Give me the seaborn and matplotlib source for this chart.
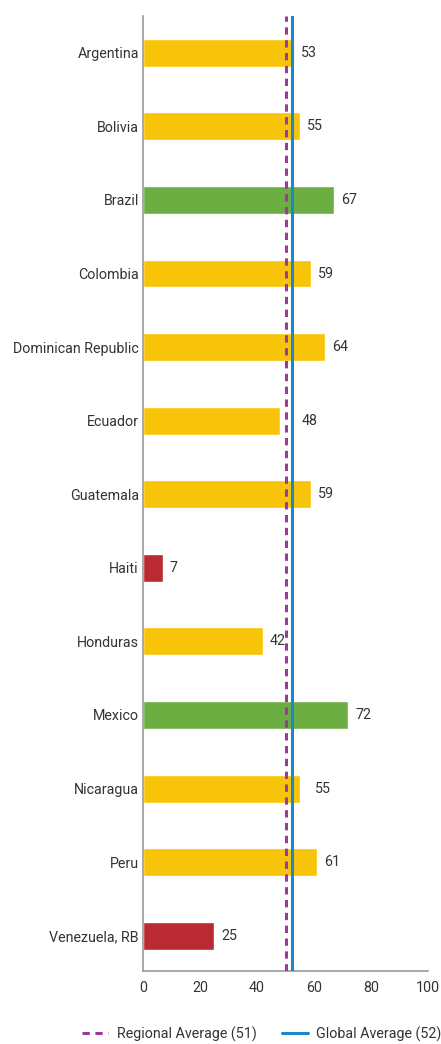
import pandas as pd
import matplotlib
matplotlib.use("Agg")
import matplotlib.pyplot as plt
import seaborn as sns
from matplotlib.lines import Line2D

# data
countries = ['Argentina', 'Bolivia', 'Brazil', 'Colombia', 'Dominican Republic',
             'Ecuador', 'Guatemala', 'Haiti', 'Honduras', 'Mexico', 'Nicaragua',
             'Peru', 'Venezuela, RB']
scores = [53, 55, 67, 59, 64, 48, 59, 7, 42, 72, 55, 61, 25]
status = ['mid', 'mid', 'high', 'mid', 'mid', 'mid', 'mid', 'low', 'mid',
          'high', 'mid', 'mid', 'low']
regional_avg = 50.3
global_avg = 52.3
regional_label = 'Regional Average (51)'
global_label = 'Global Average (52)'
xticks = [0, 20, 40, 60, 80, 100]

palette = {'mid': '#F7C409', 'high': '#6DAE43', 'low': '#BA2A32'}

sns.set_style('white')
plt.rcParams['font.family'] = ['Roboto', 'DejaVu Sans']
fs = 10.3

data = pd.DataFrame({'country': countries, 'score': scores, 'status': status})

fig = plt.figure(figsize=(4.41, 10.44), dpi=100)
ax = fig.add_axes([143 / 441, 1 - 971 / 1044, (428 - 143) / 441, (971 - 16) / 1044])

sns.barplot(data=data, x='score', y='country', hue='status', palette=palette,
            dodge=False, legend=False, width=0.38, orient='h', ax=ax,
            saturation=1)

ax.axvline(regional_avg, color='#9A3A9C', lw=2.2, ls=(0, (2.4, 1.8)), zorder=3)
ax.axvline(global_avg, color='#1E87C9', lw=2.2, zorder=3)

# labels that sit next to the average lines are pushed a bit further out
for i, v in enumerate(scores):
    off = 5
    if countries[i] == 'Ecuador':
        off = 16
    elif countries[i] == 'Nicaragua':
        off = 11
    ax.annotate(str(v), (v, i), xytext=(off, 0), textcoords='offset points',
                va='center', ha='left', fontsize=fs, color='#333333')

ax.set_xlim(0, 100)
ax.set_ylim(12.48, -0.5)
ax.set_xticks(xticks)
ax.set_xlabel('')
ax.set_ylabel('')
ax.tick_params(axis='both', length=0, labelsize=fs, colors='#333333', pad=7)
ax.tick_params(axis='y', pad=3)
for s in ['top', 'right']:
    ax.spines[s].set_visible(False)
for s in ['left', 'bottom']:
    ax.spines[s].set_color('#9a9a9a')
    ax.spines[s].set_linewidth(1.2)

handles = [Line2D([], [], color='#9A3A9C', lw=2.2, ls=(0, (2.4, 1.8))),
           Line2D([], [], color='#1E87C9', lw=2.2)]
fig.legend(handles, [regional_label, global_label], loc='center',
           bbox_to_anchor=(262 / 441, 1 - 1034 / 1044), ncol=2, frameon=False,
           fontsize=fs, handlelength=1.8, columnspacing=1.8, handletextpad=0.6,
           labelcolor='#333333')

fig.savefig('out.png', dpi=100)
